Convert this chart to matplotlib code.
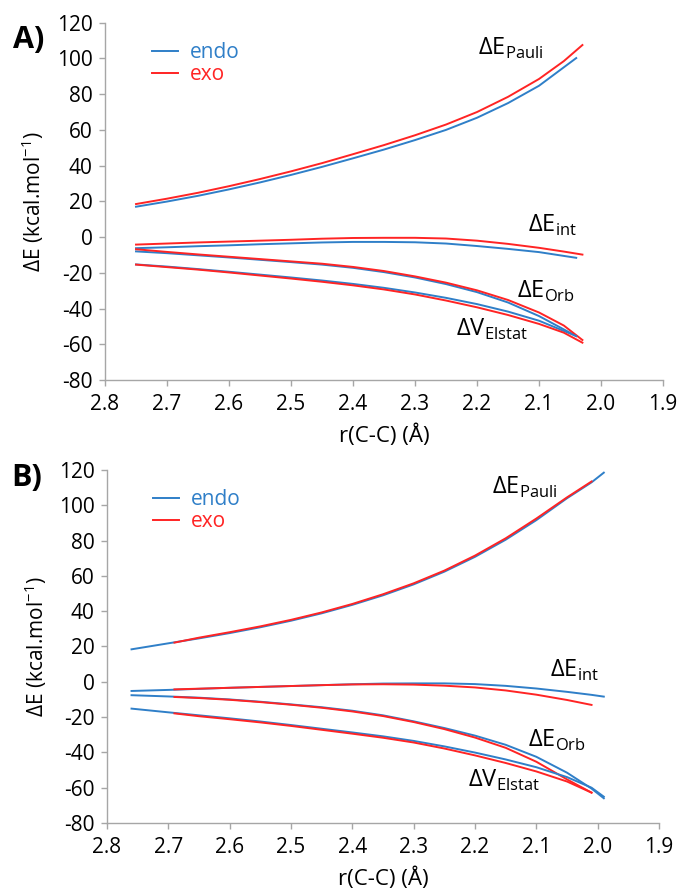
import matplotlib
matplotlib.use('Agg')
import matplotlib.pyplot as plt
from matplotlib.ticker import FormatStrFormatter

plt.rcParams['font.family'] = ['Open Sans', 'DejaVu Sans']
plt.rcParams['mathtext.fontset'] = 'custom'
plt.rcParams['mathtext.rm'] = 'Open Sans'
plt.rcParams['axes.unicode_minus'] = False

BLUE = '#2f7fc8'
RED = '#ff2424'

# ---- Panel A data ----
xA_endo = [2.75, 2.70, 2.65, 2.60, 2.55, 2.50, 2.45, 2.40, 2.35, 2.30, 2.25, 2.20, 2.15, 2.10, 2.04]
xA_exo = [2.75, 2.70, 2.65, 2.60, 2.55, 2.50, 2.45, 2.40, 2.35, 2.30, 2.25, 2.20, 2.15, 2.10, 2.06, 2.03]

pauliA_endo = [17.0, 19.9, 23.1, 26.7, 30.6, 34.8, 39.3, 44.1, 49.0, 54.3, 60.0, 66.8, 75.0, 84.7, 100.2]
pauliA_exo = [18.5, 21.5, 24.8, 28.5, 32.5, 36.8, 41.4, 46.4, 51.5, 57.0, 63.0, 70.0, 78.5, 88.5, 98.5, 107.5]
intA_endo = [-6.2, -5.7, -5.1, -4.6, -4.0, -3.5, -3.0, -2.7, -2.7, -2.9, -3.6, -5.0, -6.6, -8.4, -11.6]
intA_exo = [-4.2, -3.6, -3.0, -2.5, -2.0, -1.5, -0.9, -0.5, -0.4, -0.4, -0.8, -2.0, -3.8, -6.0, -8.1, -9.8]
orbA_endo = [-8.0, -9.0, -10.2, -11.4, -12.7, -14.0, -15.4, -17.2, -19.6, -22.6, -26.3, -30.8, -36.6, -44.2, -55.4]
orbA_exo = [-6.8, -8.3, -9.7, -11.0, -12.3, -13.6, -14.9, -16.7, -19.0, -22.0, -25.5, -29.8, -35.2, -42.2, -49.5, -57.6]
elsA_endo = [-15.3, -16.5, -17.9, -19.4, -21.0, -22.6, -24.3, -26.2, -28.4, -31.0, -34.0, -37.5, -41.7, -46.8, -55.4]
elsA_exo = [-15.4, -16.8, -18.2, -19.8, -21.5, -23.2, -25.0, -27.0, -29.3, -32.1, -35.5, -39.3, -43.6, -48.6, -53.5, -59.1]

# ---- Panel B data ----
xB_endo = [2.76, 2.70, 2.65, 2.60, 2.55, 2.50, 2.45, 2.40, 2.35, 2.30, 2.25, 2.20, 2.15, 2.10, 2.05, 2.01, 1.99]
xB_exo = [2.69, 2.65, 2.60, 2.55, 2.50, 2.45, 2.40, 2.35, 2.30, 2.25, 2.20, 2.15, 2.10, 2.05, 2.01]

pauliB_endo = [18.4, 21.8, 24.6, 27.6, 30.9, 34.6, 38.8, 43.6, 49.0, 55.2, 62.4, 70.8, 80.5, 91.6, 104.0, 113.0, 118.5]
pauliB_exo = [22.2, 25.0, 28.1, 31.4, 35.1, 39.3, 44.1, 49.6, 55.8, 63.0, 71.5, 81.3, 92.5, 104.5, 113.5]
intB_endo = [-5.2, -4.6, -4.0, -3.4, -2.9, -2.4, -1.9, -1.4, -1.0, -0.9, -0.9, -1.3, -2.3, -3.8, -5.7, -7.4, -8.4]
intB_exo = [-4.3, -3.9, -3.4, -2.9, -2.4, -1.9, -1.5, -1.4, -1.6, -2.2, -3.2, -4.9, -7.3, -10.3, -13.1]
orbB_endo = [-7.6, -8.3, -9.0, -10.0, -11.3, -12.8, -14.4, -16.4, -19.0, -22.4, -26.2, -30.5, -35.7, -42.5, -51.5, -60.5, -66.0]
orbB_exo = [-8.6, -9.2, -10.2, -11.5, -13.0, -14.7, -16.8, -19.4, -22.8, -26.8, -31.6, -37.4, -45.3, -55.3, -62.8]
elsB_endo = [-15.2, -17.3, -19.0, -20.7, -22.5, -24.5, -26.6, -28.7, -30.9, -33.5, -36.6, -40.1, -44.0, -48.4, -54.0, -60.0, -65.1]
elsB_exo = [-17.9, -19.5, -21.2, -23.0, -25.0, -27.2, -29.4, -31.7, -34.4, -37.8, -41.7, -46.0, -50.8, -56.5, -62.8]

yticks = [-80, -60, -40, -20, 0, 20, 40, 60, 80, 100, 120]
xticks = [2.8, 2.7, 2.6, 2.5, 2.4, 2.3, 2.2, 2.1, 2.0, 1.9]
ylabel = 'ΔE (kcal.mol$^{\\mathregular{-1}}$)'
xlabel = 'r(C-C) (Å)'

fig = plt.figure(figsize=(6.81, 8.90), dpi=100)
axA = fig.add_axes([0.1542, 0.573, 0.8194, 0.4015])
axB = fig.add_axes([0.1571, 0.0753, 0.8106, 0.3966])


def style_axis(ax, xlab_y):
    for s in ['top', 'right']:
        ax.spines[s].set_visible(False)
    for s in ['left', 'bottom']:
        ax.spines[s].set_color('#a6a6a6')
        ax.spines[s].set_linewidth(1.0)
    ax.set_xlim(2.8, 1.9)
    ax.set_ylim(-80, 120)
    ax.set_xticks(xticks)
    ax.set_yticks(yticks)
    ax.xaxis.set_major_formatter(FormatStrFormatter('%.1f'))
    ax.tick_params(direction='out', length=4, width=1, color='#a6a6a6',
                   labelsize=15, labelcolor='black')
    ax.tick_params(axis='y', pad=5)
    ax.tick_params(axis='x', pad=6)
    ax.set_ylabel(ylabel, fontsize=15)
    ax.yaxis.set_label_coords(-0.105, 0.5)
    ax.set_xlabel(xlabel, fontsize=16)
    ax.xaxis.set_label_coords(0.5, xlab_y)


def draw(ax, xe, xx, series):
    first = True
    for ye, yx in series:
        ax.plot(xe, ye, color=BLUE, lw=1.4, label='endo' if first else None)
        ax.plot(xx, yx, color=RED, lw=1.4, label='exo' if first else None)
        first = False


def lbl(ax, x, y, main, sub):
    ax.text(x, y, main + '$_{\\mathregular{' + sub + '}}$', fontsize=17,
            ha='left', va='baseline')


draw(axA, xA_endo, xA_exo, [(pauliA_endo, pauliA_exo), (intA_endo, intA_exo),
                            (orbA_endo, orbA_exo), (elsA_endo, elsA_exo)])
draw(axB, xB_endo, xB_exo, [(pauliB_endo, pauliB_exo), (intB_endo, intB_exo),
                            (orbB_endo, orbB_exo), (elsB_endo, elsB_exo)])

style_axis(axA, -0.125)
style_axis(axB, -0.125)

for ax, top in [(axA, 0.945), (axB, 0.945)]:
    ax.legend(loc='upper left', bbox_to_anchor=(0.084, top), frameon=False,
              fontsize=15, handlelength=1.25, handletextpad=0.55,
              labelspacing=0.05, borderpad=0, borderaxespad=0,
              labelcolor='linecolor')

lbl(axA, 2.198, 102, 'ΔE', 'Pauli')
lbl(axA, 2.118, 3.2, 'ΔE', 'int')
lbl(axA, 2.135, -34, 'ΔE', 'Orb')
lbl(axA, 2.234, -55.4, 'ΔV', 'Elstat')

lbl(axB, 2.172, 106.8, 'ΔE', 'Pauli')
lbl(axB, 2.077, 2.9, 'ΔE', 'int')
lbl(axB, 2.113, -37.1, 'ΔE', 'Orb')
lbl(axB, 2.212, -59.4, 'ΔV', 'Elstat')

fig.text(0.019, 0.955, 'A)', fontsize=22, fontweight='bold', ha='left', va='center')
fig.text(0.017, 0.463, 'B)', fontsize=22, fontweight='bold', ha='left', va='center')

fig.savefig('out.png', dpi=100)
